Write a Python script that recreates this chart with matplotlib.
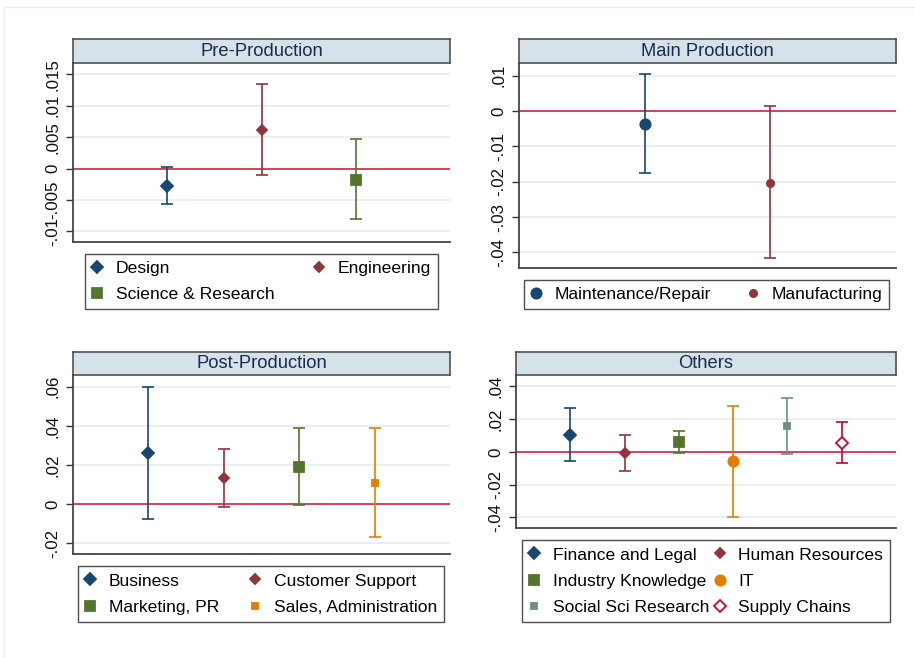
import matplotlib
matplotlib.use("Agg")
import matplotlib.pyplot as plt
from matplotlib.lines import Line2D

plt.rcParams['font.family'] = ['Liberation Sans', 'DejaVu Sans']

# ---------------- data ----------------
pre_labels = ["Design", "Engineering", "Science & Research"]
pre_est = [-0.0028, 0.0061, -0.00175]
pre_lo = [-0.0057, -0.0011, -0.0081]
pre_hi = [0.00026, 0.0134, 0.00466]
pre_ticks = [-0.01, -0.005, 0, 0.005, 0.01, 0.015]
pre_ticklabels = ["-.01", "-.005", "0", ".005", ".01", ".015"]

main_labels = ["Maintenance/Repair", "Manufacturing"]
main_est = [-0.0037, -0.0203]
main_lo = [-0.0176, -0.0416]
main_hi = [0.0104, 0.0013]
main_ticks = [-0.04, -0.03, -0.02, -0.01, 0, 0.01]
main_ticklabels = ["-.04", "-.03", "-.02", "-.01", "0", ".01"]

post_labels = ["Business", "Customer Support", "Marketing, PR", "Sales, Administration"]
post_est = [0.026, 0.0131, 0.019, 0.0109]
post_lo = [-0.0075, -0.0017, -0.0005, -0.017]
post_hi = [0.0598, 0.0281, 0.0388, 0.0391]
post_ticks = [-0.02, 0, 0.02, 0.04, 0.06]
post_ticklabels = ["-.02", "0", ".02", ".04", ".06"]

oth_labels = ["Finance and Legal", "Human Resources", "Industry Knowledge", "IT",
              "Social Sci Research", "Supply Chains"]
oth_est = [0.0104, -0.0006, 0.0059, -0.0059, 0.0155, 0.0055]
oth_lo = [-0.0057, -0.0116, -0.0006, -0.0395, -0.0016, -0.0069]
oth_hi = [0.0269, 0.0102, 0.0128, 0.0278, 0.0328, 0.0182]
oth_ticks = [-0.04, -0.02, 0, 0.02, 0.04]
oth_ticklabels = ["-.04", "-.02", "0", ".02", ".04"]

# ---------------- styles ----------------
NAVY, MAROON, GREEN, ORANGE, TEAL, CRAN = "#1a476f", "#90353b", "#55752f", "#e37e00", "#6e8e84", "#c10534"
BIG_D = dict(marker="D", ms=6.6)
SM_D = dict(marker="D", ms=4.8)
BIG_S = dict(marker="s", ms=7.0)
SM_S = dict(marker="s", ms=5.0)
BIG_O = dict(marker="o", ms=7.4)
SM_O = dict(marker="o", ms=5.2)

W, H = 915, 658
fig = plt.figure(figsize=(W / 100, H / 100), dpi=100)
fig.patch.set_facecolor("white")

# faint outer border (screenshot edge)
fig.add_artist(Line2D([4 / W, 1], [1 - 7 / H, 1 - 7 / H], transform=fig.transFigure, color="#ececec", lw=1))
fig.add_artist(Line2D([4 / W, 4 / W], [0, 1 - 7 / H], transform=fig.transFigure, color="#ececec", lw=1))


def px_axes(x0, y0, x1, y1):
    return fig.add_axes([x0 / W, 1 - y1 / H, (x1 - x0) / W, (y1 - y0) / H])


def panel(title, box, title_top, legbox, labels, est, lo, hi, styles, colors, ticks, ticklabels, ylim, hollow=()):
    x0, y0, x1, y1 = box
    ax = px_axes(x0, y0, x1, y1)
    n = len(labels)
    xs = list(range(1, n + 1))
    ax.set_xlim(0, n + 1)
    ax.set_ylim(*ylim)
    ax.set_yticks(ticks)
    ax.set_yticklabels(ticklabels, rotation=90, va="center", fontsize=12.2, color="#111111")
    ax.set_xticks([])
    ax.tick_params(axis="y", length=5, width=1, color="#333333", pad=4)
    for s in ["top", "right"]:
        ax.spines[s].set_visible(False)
    for s in ["left", "bottom"]:
        ax.spines[s].set_color("#444444")
        ax.spines[s].set_linewidth(1.3)
    ax.grid(axis="y", color="#e6eef0", lw=1.2)
    ax.set_axisbelow(True)
    ax.axhline(0, color="#cf3650", lw=1.3, zorder=2)
    handles = []
    for i in range(n):
        ax.errorbar([xs[i]], [est[i]], yerr=[[est[i] - lo[i]], [hi[i] - est[i]]], fmt="none",
                    ecolor=colors[i], elinewidth=1.2, capsize=4.5, capthick=1.2, zorder=3)
        fc = "white" if i in hollow else colors[i]
        h, = ax.plot([xs[i]], [est[i]], linestyle="none", color=colors[i], mfc=fc, mec=colors[i],
                     mew=1.3, label=labels[i], zorder=4, **styles[i])
        handles.append(h)
    # title strip
    tax = px_axes(x0, title_top, x1, y0)
    tax.set_facecolor("#d6e2e9")
    tax.set_xticks([])
    tax.set_yticks([])
    for s in tax.spines.values():
        s.set_color("#444444")
        s.set_linewidth(1.1)
    tax.text(0.5, 0.5, title, ha="center", va="center", fontsize=13.2, color="#1a2a50",
             transform=tax.transAxes)
    # legend: row-major order (matplotlib fills column by column)
    order = list(range(0, n, 2)) + list(range(1, n, 2))
    lx0, ly0, lx1, ly1 = legbox
    leg = ax.legend([handles[k] for k in order], [labels[k] for k in order],
                    loc="center", bbox_to_anchor=(lx0 / W, 1 - ly1 / H, (lx1 - lx0) / W, (ly1 - ly0) / H),
                    bbox_transform=fig.transFigure, mode="expand", ncol=2, fontsize=12.6,
                    handlelength=0.6, handletextpad=0.75, borderpad=0.4, labelspacing=0.62,
                    fancybox=False, frameon=True, borderaxespad=0)
    fr = leg.get_frame()
    fr.set_edgecolor("#222222")
    fr.set_linewidth(1.0)
    return ax


panel("Pre-Production", (73, 63, 450, 242), 39, (85, 253, 438, 310),
      pre_labels, pre_est, pre_lo, pre_hi, [BIG_D, SM_D, BIG_S], [NAVY, MAROON, GREEN],
      pre_ticks, pre_ticklabels, (-0.0117, 0.0168))

panel("Main Production", (519, 63, 896, 268), 39, (524, 279, 889, 310),
      main_labels, main_est, main_lo, main_hi, [BIG_O, SM_O], [NAVY, MAROON],
      main_ticks, main_ticklabels, (-0.0444, 0.0136))

panel("Post-Production", (73, 375, 450, 554), 352, (78, 566, 444, 622),
      post_labels, post_est, post_lo, post_hi, [BIG_D, SM_D, BIG_S, SM_S], [NAVY, MAROON, GREEN, ORANGE],
      post_ticks, post_ticklabels, (-0.0255, 0.066))

panel("Others", (516, 375, 896, 528), 352, (522, 540, 890, 622),
      oth_labels, oth_est, oth_lo, oth_hi, [BIG_D, SM_D, BIG_S, BIG_O, SM_S, BIG_D],
      [NAVY, MAROON, GREEN, ORANGE, TEAL, CRAN],
      oth_ticks, oth_ticklabels, (-0.0465, 0.0469), hollow=(5,))

fig.savefig("out.png", dpi=100)
